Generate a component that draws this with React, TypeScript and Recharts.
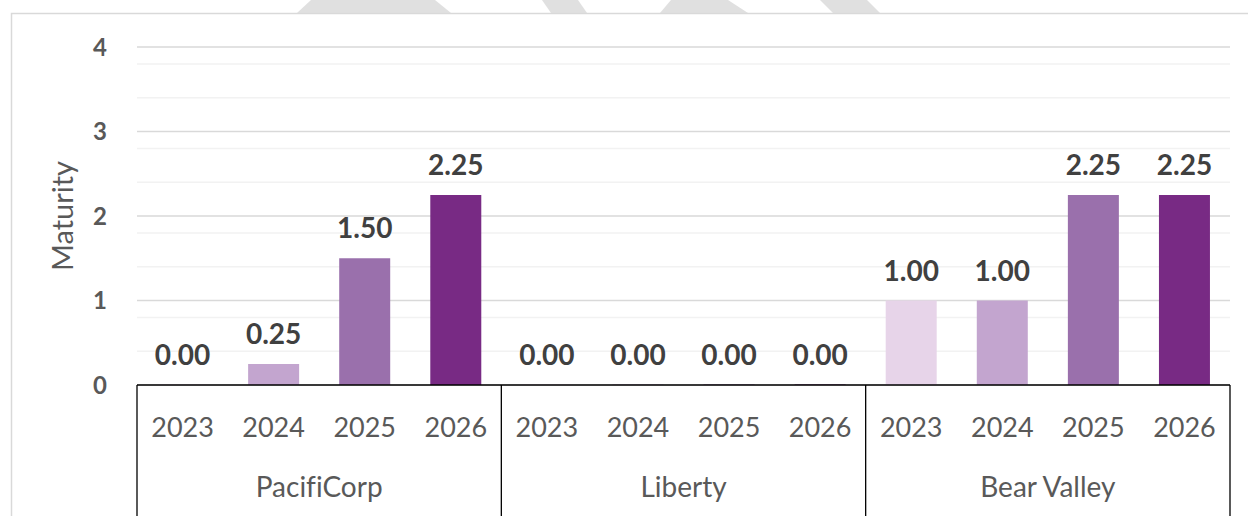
import { BarChart, Bar, Cell, XAxis, YAxis, CartesianGrid, LabelList } from 'recharts';

const companies = ['PacifiCorp', 'Liberty', 'Bear Valley'];
const years = ['2023', '2024', '2025', '2026'];
const pacifiCorp = [0, 0.25, 1.5, 2.25];
const liberty = [0, 0, 0, 0];
const bearValley = [1, 1, 2.25, 2.25];
const yearColors = ['#E7D4E9', '#C3A5CF', '#9A70AC', '#782A84'];
const yTicks = [0, 1, 2, 3, 4];
const minorTicks = [0.2, 0.4, 0.6, 0.8, 1.2, 1.4, 1.6, 1.8, 2.2, 2.4, 2.6, 2.8, 3.2, 3.4, 3.6, 3.8];

const series = [pacifiCorp, liberty, bearValley];
const rows = companies.flatMap((company, ci) =>
  years.map((year, yi) => ({
    key: `${company} ${year}`,
    company,
    year,
    yearIndex: yi,
    value: series[ci][yi]
  }))
);

const FONT = 'Lato, "Open Sans", sans-serif';
const AXIS_H = 131;
const noLig = { fontVariantLigatures: 'none' as const };

function CategoryTick(props: any) {
  const { x, y, index, payload } = props;
  const row = rows[index];
  const half = payload.offset ?? 0;
  return (
    <g>
      {row.yearIndex === 0 && (
        <line x1={x - half} x2={x - half} y1={y} y2={y + AXIS_H} stroke="#000" strokeWidth={1.3} />
      )}
      {index === rows.length - 1 && (
        <line x1={x + half} x2={x + half} y1={y} y2={y + AXIS_H} stroke="#000" strokeWidth={1.3} />
      )}
      <text x={x} y={y + 52} textAnchor="middle" fill="#595959" fontSize={27} fontFamily={FONT}>
        {row.year}
      </text>
      {row.yearIndex === 1 && (
        <text x={x + half} y={y + 112} textAnchor="middle" fill="#595959" fontSize={28} fontFamily={FONT} style={noLig}>
          {row.company}
        </text>
      )}
    </g>
  );
}

function YLabel({ viewBox }: any) {
  const cy = viewBox.y + viewBox.height / 2;
  return (
    <text
      transform={`translate(73, ${cy}) rotate(-90)`}
      textAnchor="middle"
      fill="#595959"
      fontSize={29}
      fontFamily={FONT}
    >
      Maturity
    </text>
  );
}

export default function App() {
  return (
    <div style={{ position: 'absolute', left: 0, top: 0, width: 1248, height: 516, background: '#fff', overflow: 'hidden' }}>
      <svg width={1248} height={516} style={{ position: 'absolute', left: 0, top: 0 }}>
        <polygon points="311,0 435,0 451,13 297,13" fill="#e0e0e0" />
        <polygon points="542,0 578,0 587,13 551,13" fill="#e0e0e0" />
        <polygon points="671,0 728,0 748,13 660,13" fill="#e0e0e0" />
        <polygon points="820,0 867,0 880,13 833,13" fill="#e0e0e0" />
        <path d="M11.5,516 L11.5,13.5 L1248,13.5" fill="none" stroke="#d9d9d9" strokeWidth={1.5} />
      </svg>
      <div style={{ position: 'absolute', left: 0, top: 0 }}>
        <BarChart
          width={1248}
          height={516}
          data={rows}
          margin={{ top: 47, right: 18, bottom: 0, left: 0 }}
          barCategoryGap="22%"
        >
          <CartesianGrid horizontalValues={minorTicks} vertical={false} stroke="#f2f2f2" strokeWidth={1.5} />
          <CartesianGrid horizontalValues={yTicks} vertical={false} stroke="#d9d9d9" strokeWidth={1.5} />
          <XAxis
            dataKey="key"
            interval={0}
            height={AXIS_H}
            tickLine={false}
            tickSize={0}
            tickMargin={0}
            axisLine={{ stroke: '#000', strokeWidth: 1.5 }}
            tick={<CategoryTick />}
          />
          <YAxis
            domain={[0, 4]}
            ticks={yTicks}
            width={137}
            axisLine={false}
            tickLine={false}
            tickSize={0}
            tickMargin={30}
            tick={{ fill: '#595959', fontSize: 24, fontWeight: 700, fontFamily: FONT }}
            label={<YLabel />}
          />
          <Bar dataKey="value" isAnimationActive={false} minPointSize={0.5}>
            {rows.map((r) => (
              <Cell key={r.key} fill={yearColors[r.yearIndex]} />
            ))}
            <LabelList
              dataKey="value"
              position="top"
              offset={20}
              formatter={(v: any) => Number(v).toFixed(2)}
              style={{ fill: '#404040', fontSize: 28, fontWeight: 700, fontFamily: FONT }}
            />
          </Bar>
        </BarChart>
      </div>
    </div>
  );
}
